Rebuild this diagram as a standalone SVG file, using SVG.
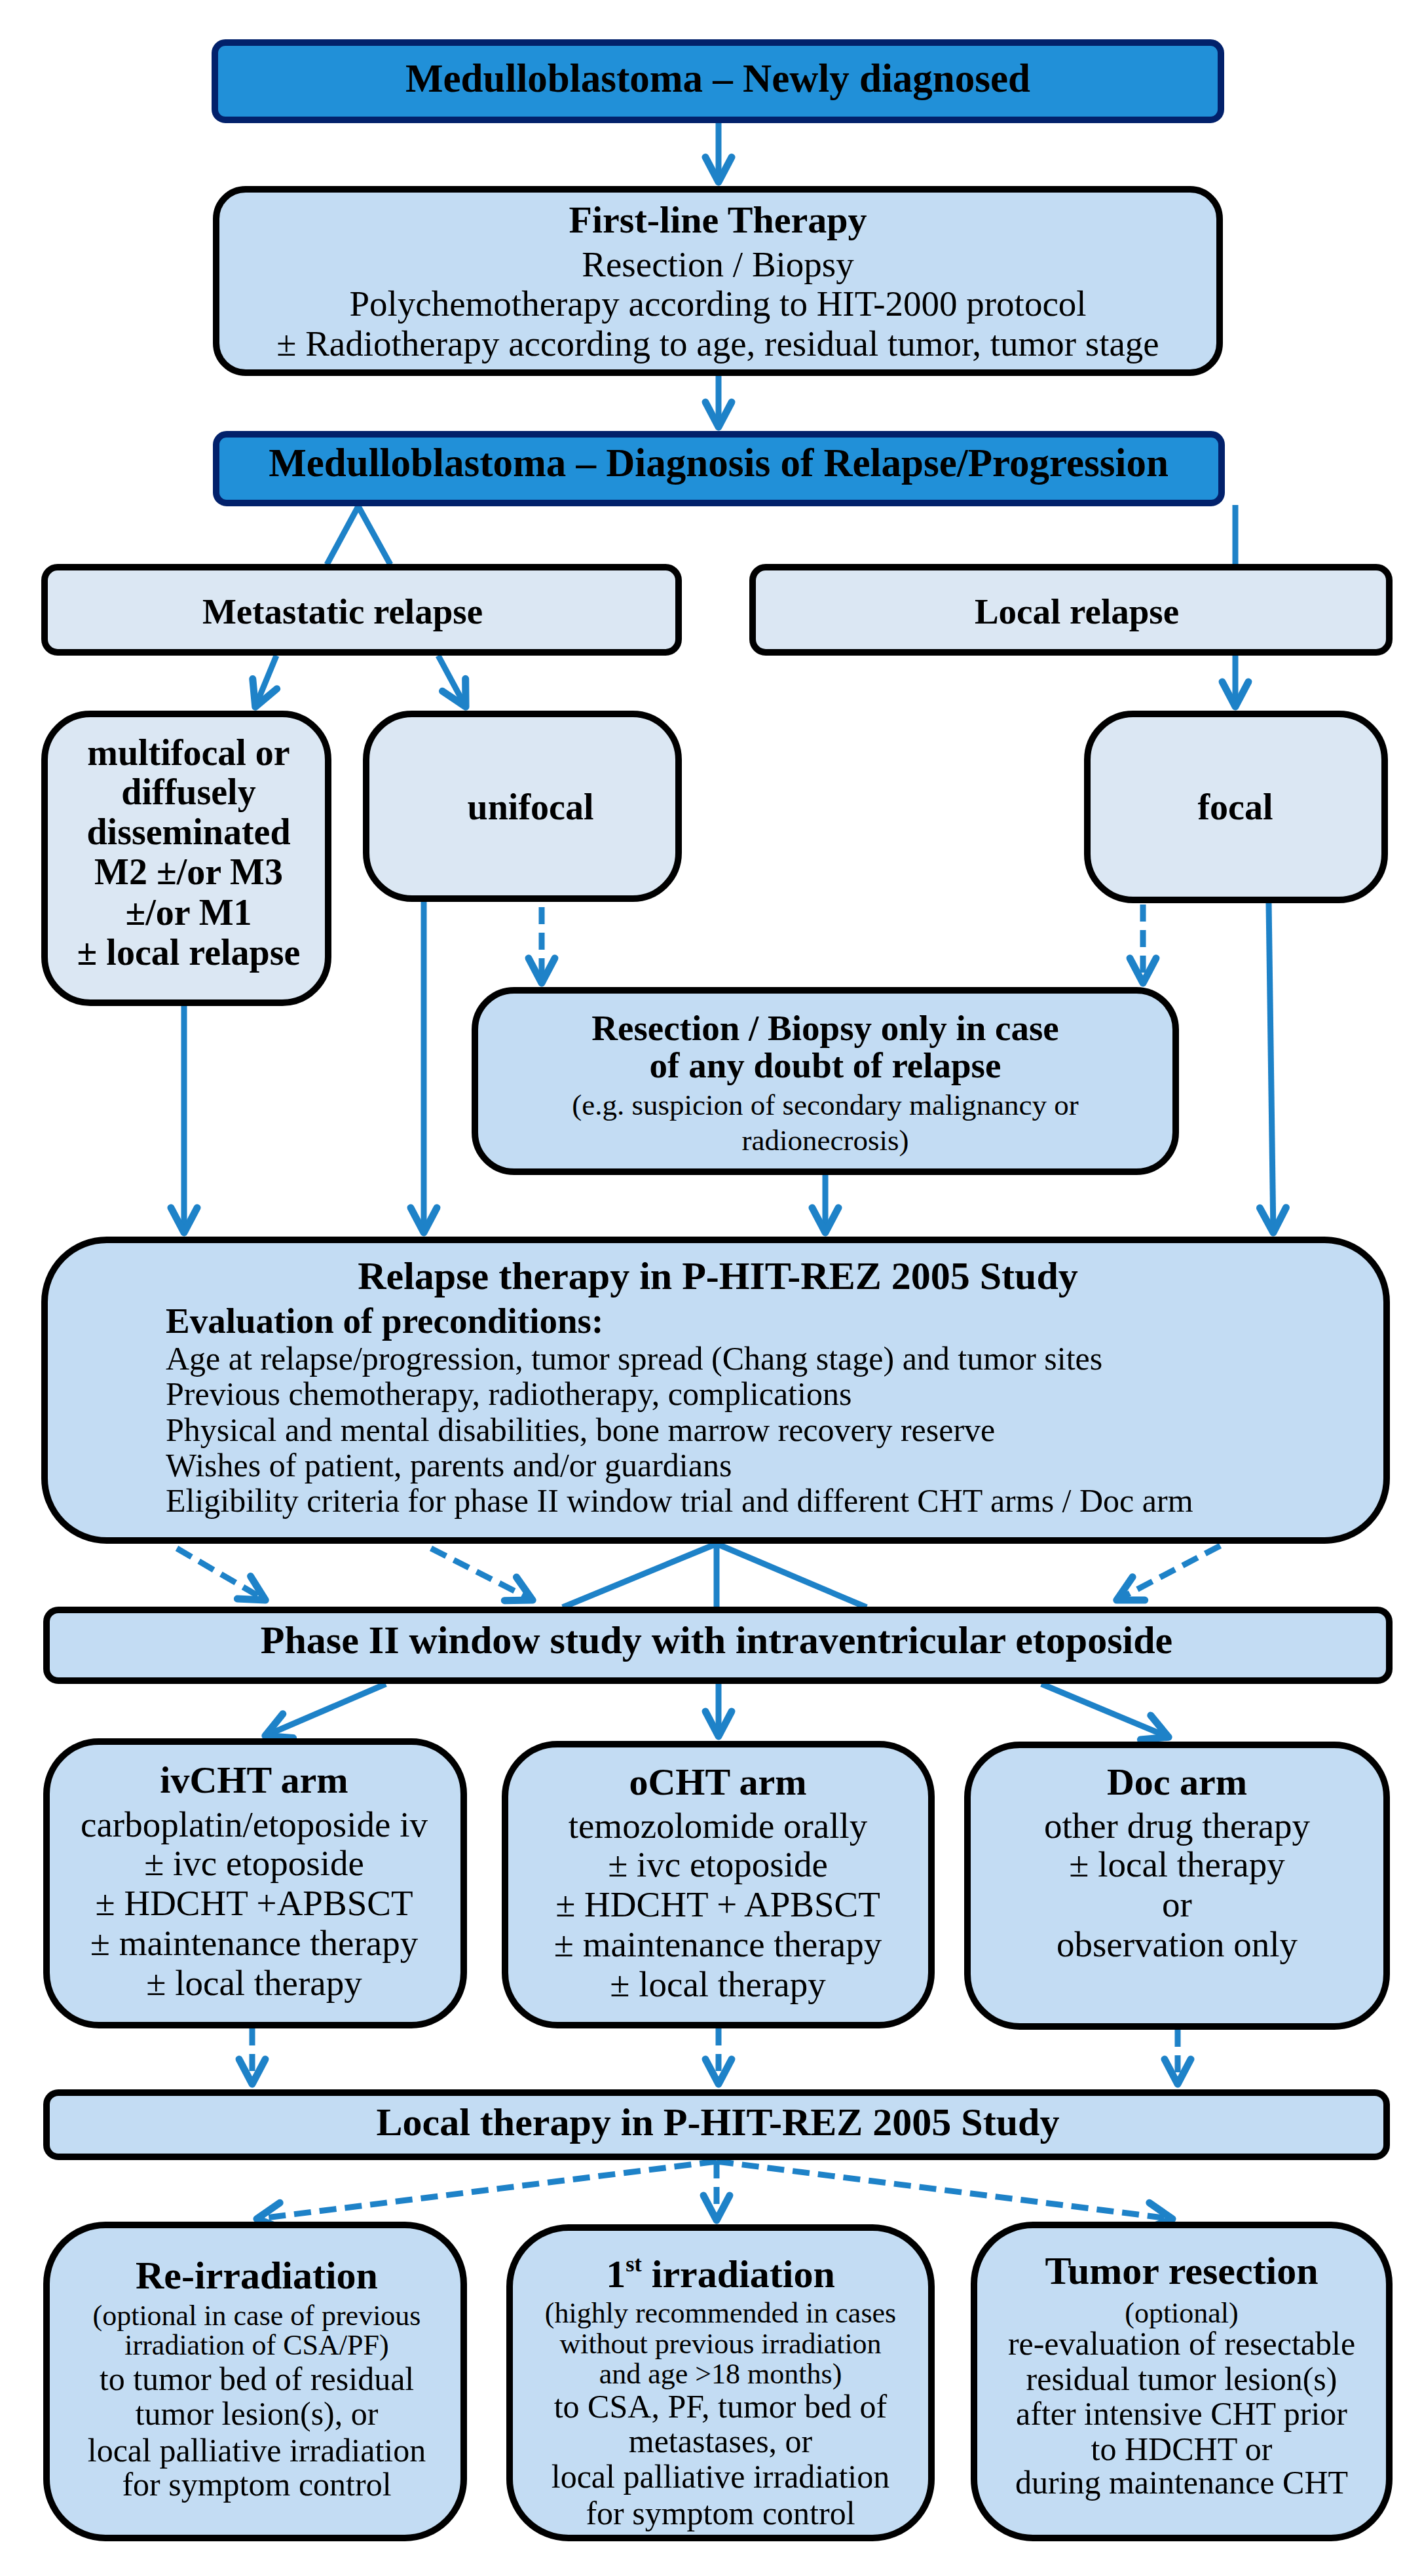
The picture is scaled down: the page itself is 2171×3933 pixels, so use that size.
<svg xmlns="http://www.w3.org/2000/svg" width="2171" height="3933" viewBox="0 0 2171 3933">
<style>
text{font-family:"Liberation Serif","Times New Roman",serif;fill:#000;text-anchor:middle}
.b{font-weight:bold}
.h{font-size:60px;font-weight:bold}
.h58{font-size:58px;font-weight:bold}
.b55{font-size:55px;font-weight:bold}
.b56{font-size:56px;font-weight:bold}
.r54{font-size:55px}
.r50{font-size:50px}
.s44{font-size:44px}
.l{text-anchor:start}
.dark{fill:#2190d8;stroke:#02216b;stroke-width:10}
.box{fill:#c3dcf3;stroke:#000;stroke-width:10}
.pale{fill:#dbe7f3;stroke:#000;stroke-width:10}
.c{fill:none;stroke:#1e82c8;stroke-width:9}
.a{marker-end:url(#ah)}
.d{stroke-dasharray:26 13}
</style>
<defs>
<marker id="ah" markerUnits="userSpaceOnUse" viewBox="-50 -30 60 60" markerWidth="60" markerHeight="60" refX="0" refY="0" orient="auto" overflow="visible">
<path d="M-40,-20 L-2,0 L-40,20" fill="none" stroke="#1e82c8" stroke-width="11" stroke-linecap="round" stroke-linejoin="round"/>
</marker>
</defs>
<rect width="2171" height="3933" fill="#fff"/>
<g id="connectors">
<line class="c a" x1="1097" y1="188" x2="1097" y2="280"/>
<line class="c a" x1="1097" y1="574" x2="1097" y2="654"/>
<path class="c" d="M499,862 L547,773 L596,862"/>
<line class="c" x1="1886" y1="771" x2="1886" y2="862"/>
<line class="c a" x1="422" y1="1001" x2="389" y2="1081"/>
<line class="c a" x1="669" y1="1001" x2="712" y2="1081"/>
<line class="c a" x1="1886" y1="1001" x2="1886" y2="1081"/>
<line class="c a d" x1="827" y1="1385" x2="827" y2="1503"/>
<line class="c a d" x1="1745" y1="1381" x2="1745" y2="1503"/>
<line class="c a" x1="281" y1="1536" x2="281" y2="1884"/>
<line class="c a" x1="647" y1="1377" x2="647" y2="1884"/>
<line class="c a" x1="1260" y1="1794" x2="1260" y2="1884"/>
<line class="c a" x1="1937" y1="1379" x2="1944" y2="1884"/>
<line class="c a d" x1="270" y1="2364" x2="407" y2="2444"/>
<line class="c a d" x1="658" y1="2364" x2="815" y2="2444"/>
<line class="c a d" x1="1863" y1="2360" x2="1703" y2="2444"/>
<path class="c" d="M859,2454 L1094,2357 L1323,2454 M1094,2357 L1094,2454"/>
<line class="c a" x1="589" y1="2571" x2="403" y2="2651"/>
<line class="c a" x1="1097" y1="2571" x2="1097" y2="2653"/>
<line class="c a" x1="1590" y1="2571" x2="1786" y2="2653"/>
<line class="c a d" x1="385" y1="3097" x2="385" y2="3184"/>
<line class="c a d" x1="1097" y1="3097" x2="1097" y2="3184"/>
<line class="c a d" x1="1798" y1="3099" x2="1798" y2="3184"/>
<line class="c a d" x1="1094" y1="3300" x2="390" y2="3388"/>
<line class="c a d" x1="1094" y1="3300" x2="1094" y2="3392"/>
<line class="c a d" x1="1094" y1="3300" x2="1792" y2="3388"/>
</g>
<g id="n-newly">
<rect class="dark" x="328" y="65" width="1536" height="118" rx="16"/>
<text class="h" x="1096" y="140" style="font-size:61px">Medulloblastoma – Newly diagnosed</text>
</g>
<g id="n-firstline">
<rect class="box" x="330" y="289" width="1532" height="280" rx="45"/>
<text class="h58" x="1096" y="355">First-line Therapy</text>
<text class="r54" x="1096" y="422">Resection / Biopsy</text>
<text class="r54" x="1096" y="482">Polychemotherapy according to HIT-2000 protocol</text>
<text class="r54" x="1096" y="543">± Radiotherapy according to age, residual tumor, tumor stage</text>
</g>
<g id="n-diagnosis">
<rect class="dark" x="330" y="663" width="1535" height="105" rx="16"/>
<text class="h" x="1097" y="727" style="font-size:61px">Medulloblastoma – Diagnosis of Relapse/Progression</text>
</g>
<g id="n-metastatic">
<rect class="pale" x="68" y="866" width="968" height="130" rx="20"/>
<text class="b55" x="523" y="952">Metastatic relapse</text>
</g>
<g id="n-local">
<rect class="pale" x="1149" y="866" width="972" height="130" rx="20"/>
<text class="b55" x="1644" y="952">Local relapse</text>
</g>
<g id="n-multifocal">
<rect class="pale" x="68" y="1090" width="433" height="441" rx="70"/>
<text class="b56" x="288" y="1168">multifocal or</text>
<text class="b56" x="288" y="1228">diffusely</text>
<text class="b56" x="288" y="1289">disseminated</text>
<text class="b56" x="288" y="1350">M2 ±/or M3</text>
<text class="b56" x="288" y="1412">±/or  M1</text>
<text class="b56" x="288" y="1473">± local relapse</text>
</g>
<g id="n-unifocal">
<rect class="pale" x="559" y="1090" width="477" height="282" rx="70"/>
<text class="b56" x="810" y="1251">unifocal</text>
</g>
<g id="n-focal">
<rect class="pale" x="1660" y="1090" width="454" height="284" rx="70"/>
<text class="b56" x="1886" y="1251">focal</text>
</g>
<g id="n-resection">
<rect class="box" x="725" y="1512" width="1070" height="277" rx="60"/>
<text class="b55" x="1260" y="1588">Resection / Biopsy only in case</text>
<text class="b55" x="1260" y="1645">of any doubt of relapse</text>
<text class="s44" x="1260" y="1702" style="font-size:45px">(e.g.  suspicion of secondary malignancy or</text>
<text class="s44" x="1260" y="1756" style="font-size:45px">radionecrosis)</text>
</g>
<g id="n-relapsetherapy">
<rect class="box" x="68" y="1893" width="2049" height="459" rx="95"/>
<text class="h" x="1096" y="1968">Relapse therapy in P-HIT-REZ 2005 Study</text>
<text class="b55 l" x="253" y="2035">Evaluation of preconditions:</text>
<text class="r50 l" x="253" y="2091">Age at relapse/progression, tumor spread (Chang stage) and tumor sites</text>
<text class="r50 l" x="253" y="2145">Previous chemotherapy, radiotherapy, complications</text>
<text class="r50 l" x="253" y="2200">Physical and mental disabilities, bone marrow recovery reserve</text>
<text class="r50 l" x="253" y="2254">Wishes of patient, parents and/or guardians</text>
<text class="r50 l" x="253" y="2308">Eligibility criteria for phase II window  trial and different CHT arms / Doc arm</text>
</g>
<g id="n-phase2">
<rect class="box" x="71" y="2458" width="2050" height="108" rx="18"/>
<text class="h" x="1094" y="2524">Phase II window study with intraventricular etoposide</text>
</g>
<g id="n-ivcht">
<rect class="box" x="71" y="2659" width="637" height="433" rx="80"/>
<text class="h58" x="388" y="2737">ivCHT arm</text>
<text class="r54" x="388" y="2804">carboplatin/etoposide  iv</text>
<text class="r54" x="388" y="2863">± ivc etoposide</text>
<text class="r54" x="388" y="2924">± HDCHT +APBSCT</text>
<text class="r54" x="388" y="2985">± maintenance therapy</text>
<text class="r54" x="388" y="3046">± local therapy</text>
</g>
<g id="n-ocht">
<rect class="box" x="771" y="2663" width="651" height="429" rx="80"/>
<text class="h58" x="1096" y="2740">oCHT arm</text>
<text class="r54" x="1096" y="2806">temozolomide orally</text>
<text class="r54" x="1096" y="2865">± ivc etoposide</text>
<text class="r54" x="1096" y="2926">± HDCHT + APBSCT</text>
<text class="r54" x="1096" y="2987">± maintenance therapy</text>
<text class="r54" x="1096" y="3048">± local therapy</text>
</g>
<g id="n-doc">
<rect class="box" x="1477" y="2664" width="640" height="430" rx="80"/>
<text class="h58" x="1797" y="2740">Doc arm</text>
<text class="r54" x="1797" y="2806">other drug therapy</text>
<text class="r54" x="1797" y="2865">± local therapy</text>
<text class="r54" x="1797" y="2926">or</text>
<text class="r54" x="1797" y="2987">observation only</text>
</g>
<g id="n-localtherapy">
<rect class="box" x="71" y="3195" width="2046" height="98" rx="18"/>
<text class="h" x="1096" y="3260">Local therapy in P-HIT-REZ 2005 Study</text>
</g>
<g id="n-reirradiation">
<rect class="box" x="71" y="3397" width="637" height="478" rx="90"/>
<text class="h" x="392" y="3494">Re-irradiation</text>
<text class="s44" x="392" y="3550">(optional in case of previous</text>
<text class="s44" x="392" y="3595">irradiation of CSA/PF)</text>
<text class="r50" x="392" y="3649">to tumor bed of residual</text>
<text class="r50" x="392" y="3702">tumor lesion(s), or</text>
<text class="r50" x="392" y="3758">local palliative irradiation</text>
<text class="r50" x="392" y="3810">for symptom control</text>
</g>
<g id="n-firstirradiation">
<rect class="box" x="778" y="3401" width="644" height="474" rx="90"/>
<text class="h" x="1100" y="3492">1<tspan font-size="34" dy="-24">st</tspan><tspan dy="24"> irradiation</tspan></text>
<text class="s44" x="1100" y="3546">(highly recommended in cases</text>
<text class="s44" x="1100" y="3593">without previous irradiation</text>
<text class="s44" x="1100" y="3639">and age &gt;18 months)</text>
<text class="r50" x="1100" y="3691">to CSA, PF, tumor bed of</text>
<text class="r50" x="1100" y="3744">metastases, or</text>
<text class="r50" x="1100" y="3798">local palliative irradiation</text>
<text class="r50" x="1100" y="3854">for symptom control</text>
</g>
<g id="n-tumorresection">
<rect class="box" x="1487" y="3397" width="634" height="478" rx="90"/>
<text class="h" x="1804" y="3487">Tumor resection</text>
<text class="s44" x="1804" y="3546">(optional)</text>
<text class="r50" x="1804" y="3595">re-evaluation of resectable</text>
<text class="r50" x="1804" y="3649">residual tumor lesion(s)</text>
<text class="r50" x="1804" y="3702">after intensive CHT prior</text>
<text class="r50" x="1804" y="3756">to HDCHT or</text>
<text class="r50" x="1804" y="3807">during maintenance CHT</text>
</g>
</svg>
